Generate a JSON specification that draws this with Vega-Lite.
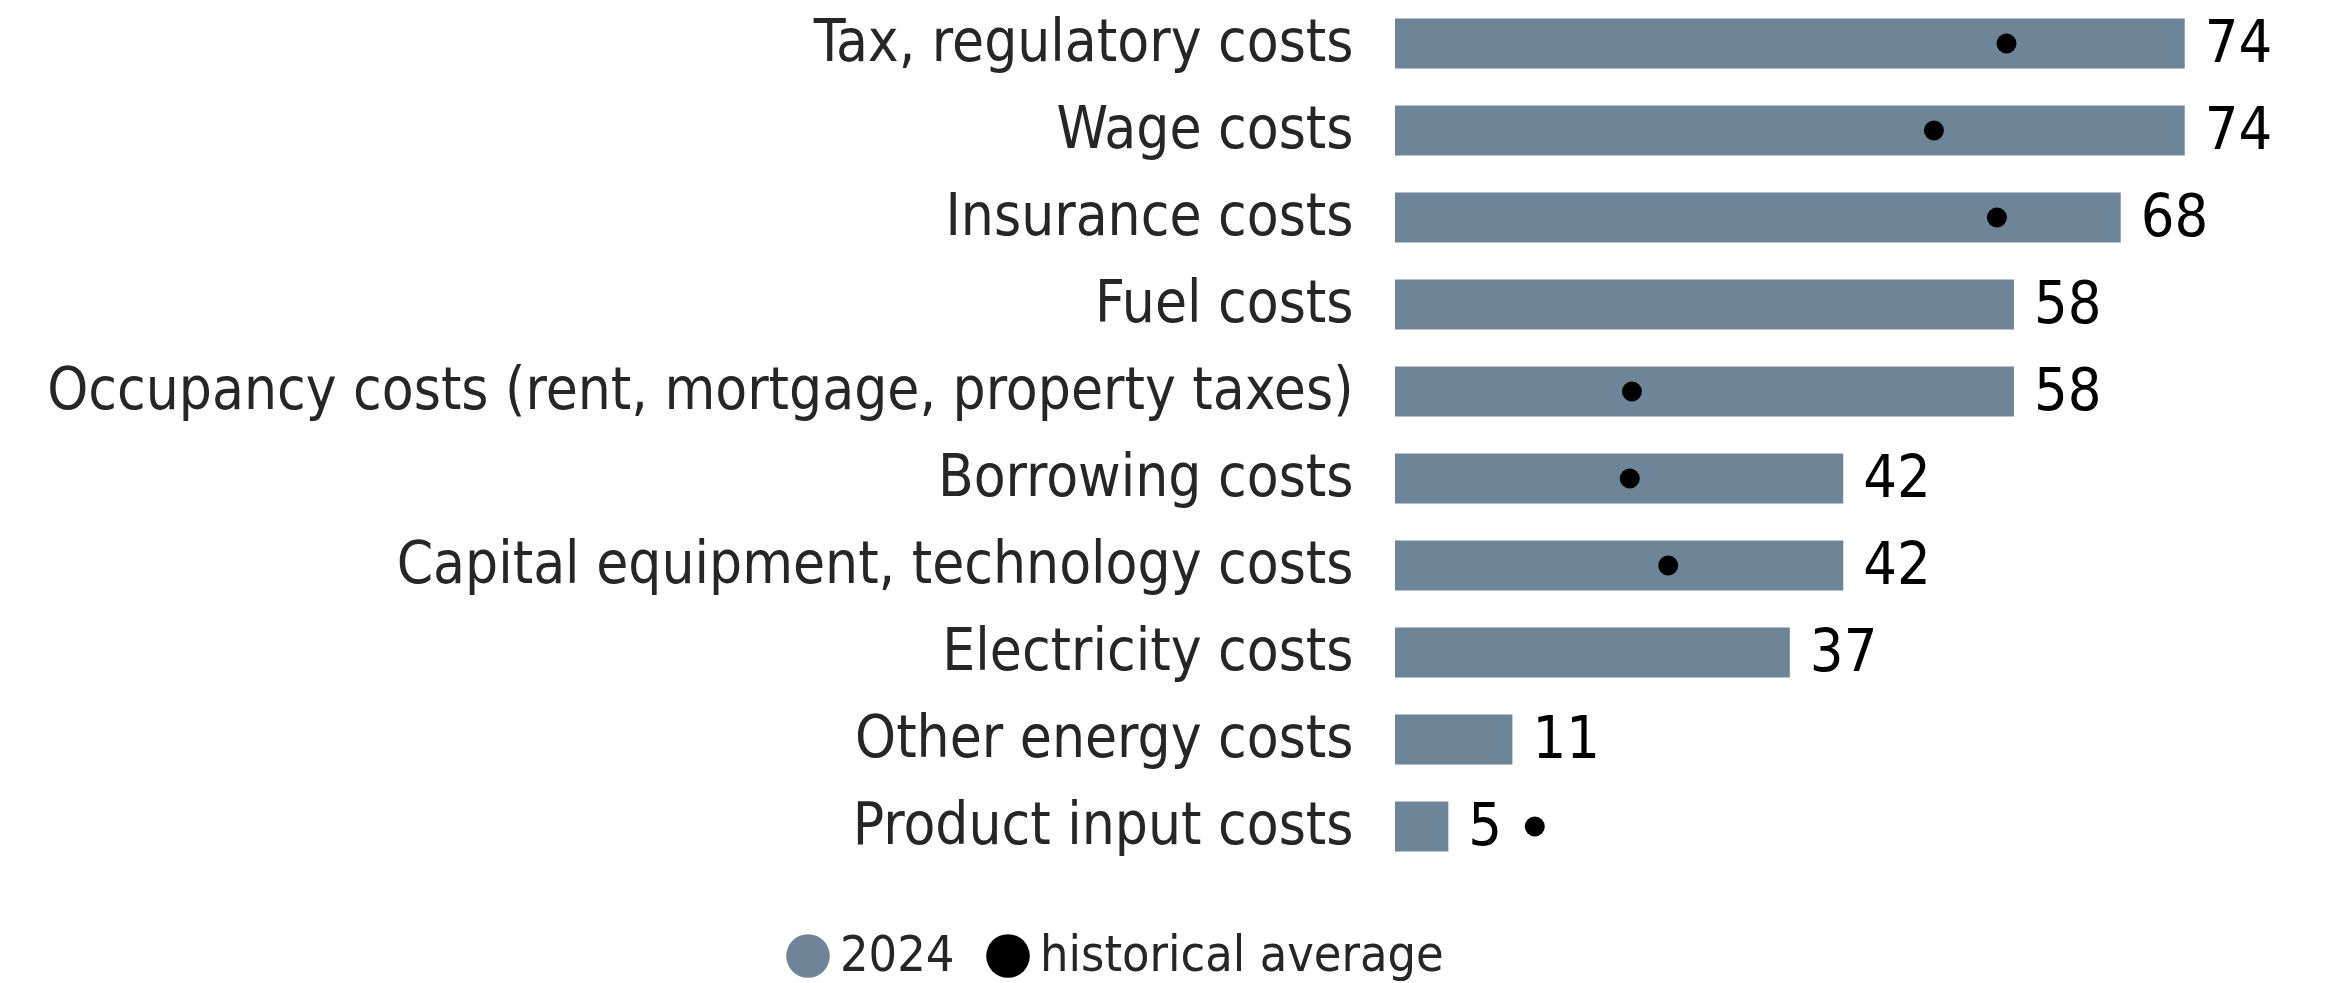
{
  "$schema": "https://vega.github.io/schema/vega-lite/v6.json",
  "autosize": "none",
  "width": 937,
  "height": 870,
  "padding": {"left": 1395, "top": 0, "right": 0, "bottom": 113},
  "background": "white",
  "config": {"view": {"stroke": null}, "font": "DejaVu Sans Condensed"},
  "data": {
    "values": [
      {"category": "Tax, regulatory costs", "y2024": 74, "hist": 57.3},
      {"category": "Wage costs", "y2024": 74, "hist": 50.5},
      {"category": "Insurance costs", "y2024": 68, "hist": 56.4},
      {"category": "Fuel costs", "y2024": 58, "hist": null},
      {"category": "Occupancy costs (rent, mortgage, property taxes)", "y2024": 58, "hist": 22.2},
      {"category": "Borrowing costs", "y2024": 42, "hist": 22.0},
      {"category": "Capital equipment, technology costs", "y2024": 42, "hist": 25.6},
      {"category": "Electricity costs", "y2024": 37, "hist": null},
      {"category": "Other energy costs", "y2024": 11, "hist": null},
      {"category": "Product input costs", "y2024": 5, "hist": 13.1}
    ]
  },
  "encoding": {
    "y": {
      "field": "category",
      "type": "nominal",
      "sort": null,
      "title": null,
      "scale": {"paddingInner": 0.425, "paddingOuter": 0.2125},
      "axis": {
        "ticks": false,
        "domain": false,
        "grid": false,
        "labelFontSize": 58,
        "labelColor": "#262626",
        "labelPadding": 42,
        "labelLimit": 2000,
        "labelFont": "DejaVu Sans Condensed"
      }
    }
  },
  "layer": [
    {
      "mark": {"type": "bar"},
      "encoding": {
        "x": {"field": "y2024", "type": "quantitative", "scale": {"domain": [0, 87.8], "nice": false}, "axis": null},
        "color": {
          "datum": "2024",
          "scale": {"domain": ["2024", "historical average"], "range": ["#6E8499", "#000000"]},
          "legend": {
            "title": null,
            "orient": "none",
            "direction": "horizontal",
            "legendX": -612,
            "legendY": 931,
            "symbolType": "circle",
            "symbolSize": 1900,
            "symbolStrokeWidth": 0,
            "labelFontSize": 50,
            "labelFont": "DejaVu Sans Condensed",
            "labelColor": "#262626",
            "labelLimit": 1000,
            "labelOffset": 7,
            "columnPadding": 28
          }
        }
      }
    },
    {
      "mark": {"type": "text", "align": "left", "baseline": "middle", "dx": 20, "fontSize": 59, "color": "#000000", "font": "DejaVu Sans Condensed"},
      "encoding": {
        "x": {"field": "y2024", "type": "quantitative"},
        "text": {"field": "y2024", "type": "quantitative"}
      }
    },
    {
      "mark": {"type": "point", "filled": true, "shape": "circle", "size": 400, "opacity": 1},
      "encoding": {
        "x": {"field": "hist", "type": "quantitative"},
        "color": {"datum": "historical average"}
      }
    }
  ]
}
